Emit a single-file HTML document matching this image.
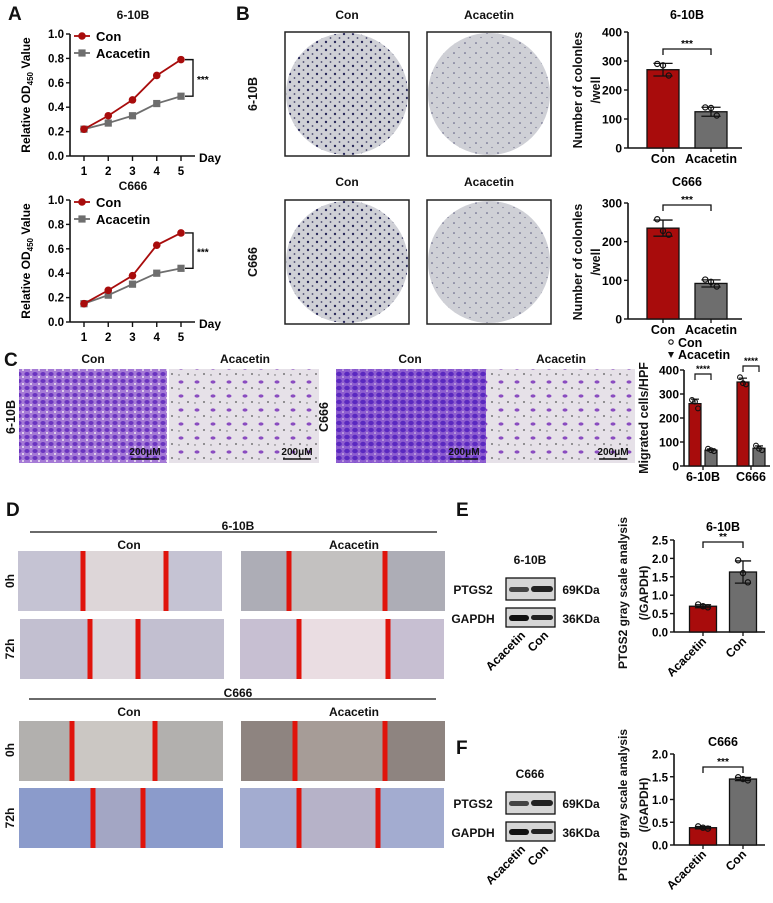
<!DOCTYPE html>
<html><head><meta charset="utf-8"><style>
body{margin:0;background:#fff}
svg{display:block;font-family:"Liberation Sans",Arial,sans-serif;font-weight:bold}
text{font-weight:bold}
</style></head><body>
<svg id="fig" width="773" height="903" viewBox="0 0 773 903" xmlns="http://www.w3.org/2000/svg">
<defs>
<pattern id="dots" width="9" height="8" patternUnits="userSpaceOnUse"><circle cx="2" cy="2" r="1.2" fill="#2a2a5a"/><circle cx="6.5" cy="6" r="0.9" fill="#44446a"/></pattern>
<pattern id="dotsL" width="11" height="10" patternUnits="userSpaceOnUse"><circle cx="3" cy="3" r="0.8" fill="#55557a"/><circle cx="8" cy="7.5" r="0.6" fill="#6a6a88"/></pattern>
<pattern id="cellsD" width="8" height="7" patternUnits="userSpaceOnUse"><rect width="8" height="7" fill="#a57ad6"/><ellipse cx="3" cy="3" rx="2.6" ry="2" fill="#6a34c0"/><circle cx="7" cy="6" r="1" fill="#f0e8f4"/></pattern>
<pattern id="cellsC" width="8" height="7" patternUnits="userSpaceOnUse"><rect width="8" height="7" fill="#8e5ed0"/><ellipse cx="3" cy="3" rx="2.8" ry="2.2" fill="#5a28c0"/><circle cx="7" cy="6" r="0.8" fill="#e8d8ee"/></pattern>
<pattern id="cellsL" width="16" height="14" patternUnits="userSpaceOnUse"><rect width="16" height="14" fill="#e6e1e8"/><ellipse cx="5" cy="4" rx="2.5" ry="1.6" fill="#8a4cc0"/><circle cx="12" cy="10" r="0.9" fill="#555"/><circle cx="3" cy="11" r="0.7" fill="#666"/></pattern>
</defs>
<g id="static"></g>
<g id="charts"></g>
</svg>
<script>
// ---------- DATA ----------
const days = [1, 2, 3, 4, 5];
const odTicks = [0.0, 0.2, 0.4, 0.6, 0.8, 1.0];
const od610Con = [0.22, 0.33, 0.46, 0.66, 0.79];
const od610Aca = [0.22, 0.27, 0.33, 0.43, 0.49];
const odC666Con = [0.15, 0.26, 0.38, 0.63, 0.73];
const odC666Aca = [0.15, 0.22, 0.31, 0.40, 0.44];

const groups = ["Con", "Acacetin"];
const col610Ticks = [0, 100, 200, 300, 400];
const col610Means = [270, 125];
const col610Pts = [[290, 285, 250], [140, 138, 112]];
const colC666Ticks = [0, 100, 200, 300];
const colC666Means = [235, 92];
const colC666Pts = [[258, 228, 218], [102, 96, 84]];

const migCells = ["6-10B", "C666"];
const migTicks = [0, 100, 200, 300, 400];
const migCon = [260, 350];
const migAca = [66, 74];
const migConPts = [[275, 268, 240], [370, 345, 340]];
const migAcaPts = [[72, 66, 62], [85, 72, 66]];

const wbGroups = ["Acacetin", "Con"];
const eTicks = [0.0, 0.5, 1.0, 1.5, 2.0, 2.5];
const eMeans = [0.70, 1.63];
const ePts = [[0.75, 0.70, 0.67], [1.95, 1.60, 1.35]];
const fTicks = [0.0, 0.5, 1.0, 1.5, 2.0];
const fMeans = [0.38, 1.45];
const fPts = [[0.41, 0.38, 0.36], [1.49, 1.45, 1.42]];

// ---------- HELPERS ----------
const NS = "http://www.w3.org/2000/svg";
const RED = "#a80c0c", GRAY = "#6e6e6e";
function mk(tag, attrs, parent, txt) {
  const e = document.createElementNS(NS, tag);
  for (const k in attrs) e.setAttribute(k, attrs[k]);
  if (txt !== undefined) e.textContent = txt;
  parent.appendChild(e);
  return e;
}
const S = document.getElementById("static");
const C = document.getElementById("charts");
function txt(x, y, s, size, name, extra) {
  const a = Object.assign({x: x, y: y, "font-size": size, "text-anchor": "middle", fill: "#111"}, extra || {});
  const e = mk("text", a, S, s);
  
  
  return e;
}
function vtxt(x, y, s, size, name) {
  const e = mk("text", {x: 0, y: 0, "font-size": size, "text-anchor": "middle", fill: "#111", transform: "translate(" + x + "," + y + ") rotate(-90)"}, S, s);
  
  
  return e;
}
function rect(x, y, w, h, fill, name, parent) {
  const e = mk("rect", {x: x, y: y, width: w, height: h, fill: fill}, parent || S);
  
  
  return e;
}
function mean(a){return a.reduce((s,v)=>s+v,0)/a.length;}
function sd(a){const m=mean(a);return Math.sqrt(a.reduce((s,v)=>s+(v-m)*(v-m),0)/(a.length-1));}

// ---------- PANEL LETTERS ----------
[["A",8,20],["B",236,20],["C",4,366],["D",6,516],["E",456,516],["F",456,754]].forEach(p=>{
  const e = txt(p[1], p[2], p[0], 19, "panel-label-" + p[0].toLowerCase(), {"text-anchor":"start"});
});

// ---------- LINE CHARTS (A) ----------
function lineChart(cfg, con, aca, name) {
  const g = mk("g", {}, C);
  
  
  const sx = d => cfg.x1 + (d - days[0]) * (cfg.x5 - cfg.x1) / (days[days.length-1] - days[0]);
  const sy = v => cfg.y0 - v * (cfg.y0 - cfg.y1) / odTicks[odTicks.length-1];
  mk("line", {x1: cfg.ax, y1: sy(1) , x2: cfg.ax, y2: cfg.y0, stroke: "#111", "stroke-width": 1.6}, g);
  mk("line", {x1: cfg.ax, y1: cfg.y0, x2: cfg.ax + 125, y2: cfg.y0, stroke: "#111", "stroke-width": 1.6}, g);
  odTicks.forEach(t => {
    mk("line", {x1: cfg.ax - 4, y1: sy(t), x2: cfg.ax, y2: sy(t), stroke: "#111", "stroke-width": 1.4}, g);
    const e = mk("text", {x: cfg.ax - 6, y: sy(t) + 4, "font-size": 11.5, "text-anchor": "end"}, g, t.toFixed(1));
    
    
  });
  days.forEach(d => {
    mk("line", {x1: sx(d), y1: cfg.y0, x2: sx(d), y2: cfg.y0 + 5, stroke: "#111", "stroke-width": 1.4}, g);
    const e = mk("text", {x: sx(d), y: cfg.y0 + 19, "font-size": 11.5, "text-anchor": "middle"}, g, String(d));
    
    
  });
  const dl = mk("text", {x: cfg.ax + 129, y: cfg.y0 + 6, "font-size": 12}, g, "Day");
  
  
  const yt = mk("text", {x: 0, y: 0, "font-size": 12, "text-anchor": "middle", transform: "translate(" + (cfg.ax - 40) + "," + ((sy(1)+cfg.y0)/2) + ") rotate(-90)"}, g);
  
  
  yt.innerHTML = 'Relative OD<tspan font-size="8" dy="3">450</tspan><tspan dy="-3"> Value</tspan>';
  const series = [[aca, GRAY, "sq", "acacetin"], [con, RED, "ci", "con"]];
  series.forEach(s => {
    const pts = s[0].map((v, i) => sx(days[i]) + "," + sy(v)).join(" ");
    const pl = mk("polyline", {points: pts, fill: "none", stroke: s[1], "stroke-width": 1.8}, g);
    
    
    s[0].forEach((v, i) => {
      let m;
      if (s[2] === "ci") m = mk("circle", {cx: sx(days[i]), cy: sy(v), r: 3.8, fill: s[1]}, g);
      else m = mk("rect", {x: sx(days[i]) - 3.6, y: sy(v) - 3.6, width: 7.2, height: 7.2, fill: s[1]}, g);
      
      
    });
  });
  const lx = cfg.ax + 4, ly = sy(1) + 2;
  mk("line", {x1: lx, y1: ly, x2: lx + 16, y2: ly, stroke: RED, "stroke-width": 1.8}, g);
  mk("circle", {cx: lx + 8, cy: ly, r: 3.8, fill: RED}, g);
  const l1 = mk("text", {x: lx + 22, y: ly + 5, "font-size": 13}, g, "Con");
  
  
  mk("line", {x1: lx, y1: ly + 17, x2: lx + 16, y2: ly + 17, stroke: GRAY, "stroke-width": 1.8}, g);
  mk("rect", {x: lx + 4.4, y: ly + 13.4, width: 7.2, height: 7.2, fill: GRAY}, g);
  const l2 = mk("text", {x: lx + 22, y: ly + 22, "font-size": 13}, g, "Acacetin");
  
  
  const bx = sx(days[4]) + 12;
  const ya = sy(con[4]), yb = sy(aca[4]);
  mk("polyline", {points: (sx(days[4])+4) + "," + ya + " " + bx + "," + ya + " " + bx + "," + yb + " " + (sx(days[4])+4) + "," + yb, fill: "none", stroke: "#111", "stroke-width": 1.4}, g);
  const st = mk("text", {x: bx + 4, y: (ya + yb) / 2 + 5, "font-size": 10}, g, "***");
  
  
}
txt(133, 19, "6-10B", 12, "chart-title-a-610b");
txt(133, 190, "C666", 12, "chart-title-a-c666");
lineChart({ax: 70, y0: 156, y1: 34, x1: 84, x5: 181}, od610Con, od610Aca, "line-chart-610b");
lineChart({ax: 70, y0: 322, y1: 200, x1: 84, x5: 181}, odC666Con, odC666Aca, "line-chart-c666");

// ---------- BAR CHARTS ----------
function barChart(cfg, means, pts, ticks, fmt, cats, name) {
  const g = mk("g", {}, C);
  
  
  const tmax = ticks[ticks.length - 1];
  const sy = v => cfg.y0 - v * (cfg.y0 - cfg.yTop) / tmax;
  mk("line", {x1: cfg.ax, y1: sy(tmax), x2: cfg.ax, y2: cfg.y0, stroke: "#111", "stroke-width": 1.6}, g);
  mk("line", {x1: cfg.ax, y1: cfg.y0, x2: cfg.xEnd, y2: cfg.y0, stroke: "#111", "stroke-width": 1.6}, g);
  ticks.forEach(t => {
    mk("line", {x1: cfg.ax - 4, y1: sy(t), x2: cfg.ax, y2: sy(t), stroke: "#111", "stroke-width": 1.4}, g);
    const e = mk("text", {x: cfg.ax - 6, y: sy(t) + 4.5, "font-size": cfg.fs || 12, "text-anchor": "end"}, g, fmt(t));
    
    
  });
  means.forEach((m, i) => {
    const cx = cfg.cx[i], w = cfg.bw;
    const b = mk("rect", {x: cx - w/2, y: sy(m), width: w, height: cfg.y0 - sy(m), fill: cfg.colors[i], stroke: "#111", "stroke-width": 1.3}, g);
    
    
    const s = sd(pts[i]);
    mk("line", {x1: cx, y1: sy(m + s), x2: cx, y2: sy(m), stroke: "#111", "stroke-width": 1.3}, g);
    mk("line", {x1: cx - w*0.3, y1: sy(m + s), x2: cx + w*0.3, y2: sy(m + s), stroke: "#111", "stroke-width": 1.3}, g);
    mk("line", {x1: cx - w*0.3, y1: sy(m - s), x2: cx + w*0.3, y2: sy(m - s), stroke: "#111", "stroke-width": 1.3}, g);
    mk("line", {x1: cx, y1: sy(m - s), x2: cx, y2: sy(m), stroke: "#111", "stroke-width": 1.3}, g);
    pts[i].forEach((p, j) => {
      const d = mk("circle", {cx: cx + (j - 1) * w * 0.18, cy: sy(p), r: 2.6, fill: "none", stroke: "#111", "stroke-width": 1.2}, g);
      
      
    });
    mk("line", {x1: cx, y1: cfg.y0, x2: cx, y2: cfg.y0 + 4, stroke: "#111", "stroke-width": 1.3}, g);
    let lab;
    if (cfg.rot) {
      lab = mk("text", {x: 0, y: 0, "font-size": 12, "text-anchor": "end", transform: "translate(" + (cx + 4) + "," + (cfg.y0 + 10) + ") rotate(-45)"}, g, cats[i]);
    } else {
      lab = mk("text", {x: cx, y: cfg.y0 + 15, "font-size": 12.5, "text-anchor": "middle"}, g, cats[i]);
    }
    
    
  });
  const by = cfg.brY;
  mk("polyline", {points: cfg.cx[0] + "," + (by + 6) + " " + cfg.cx[0] + "," + by + " " + cfg.cx[1] + "," + by + " " + cfg.cx[1] + "," + (by + 6), fill: "none", stroke: "#111", "stroke-width": 1.3}, g);
  const st = mk("text", {x: (cfg.cx[0] + cfg.cx[1]) / 2, y: by - 2, "font-size": 10, "text-anchor": "middle"}, g, cfg.star);
  
  
  if (cfg.title) {
    const t = mk("text", {x: (cfg.cx[0] + cfg.cx[1]) / 2, y: cfg.titleY, "font-size": 12.5, "text-anchor": "middle"}, g, cfg.title);
    
    
  }
}
const int = t => String(t), one = t => t.toFixed(1);
barChart({ax: 628, y0: 148, yTop: 32, xEnd: 742, cx: [663, 711], bw: 32, colors: [RED, GRAY], brY: 49, star: "***", title: "6-10B", titleY: 19}, col610Means, col610Pts, col610Ticks, int, groups, "bar-chart-colonies-610b");
barChart({ax: 628, y0: 319, yTop: 203, xEnd: 742, cx: [663, 711], bw: 32, colors: [RED, GRAY], brY: 205, star: "***", title: "C666", titleY: 186}, colC666Means, colC666Pts, colC666Ticks, int, groups, "bar-chart-colonies-c666");
vtxt(582, 90, "Number of colonles", 12.5, "y-axis-title");
vtxt(600, 90, "/well", 12.5, "y-axis-title-2");
vtxt(582, 262, "Number of colonles", 12.5, "y-axis-title");
vtxt(600, 262, "/well", 12.5, "y-axis-title-2");

barChart({ax: 674, y0: 632, yTop: 540, xEnd: 765, cx: [703, 743], bw: 27, colors: [RED, GRAY], brY: 542, star: "**", title: "6-10B", titleY: 531, rot: true, fs: 11.5}, eMeans, ePts, eTicks, one, wbGroups, "bar-chart-ptgs2-610b");
barChart({ax: 674, y0: 845, yTop: 754, xEnd: 765, cx: [703, 743], bw: 27, colors: [RED, GRAY], brY: 767, star: "***", title: "C666", titleY: 746, rot: true, fs: 11.5}, fMeans, fPts, fTicks, one, wbGroups, "bar-chart-ptgs2-c666");
vtxt(627, 593, "PTGS2 gray scale analysis", 12, "y-axis-title");
vtxt(648, 593, "(/GAPDH)", 12, "y-axis-title-2");
vtxt(627, 805, "PTGS2 gray scale analysis", 12, "y-axis-title");
vtxt(648, 805, "(/GAPDH)", 12, "y-axis-title-2");

// ---------- MIGRATION GROUPED BAR (C) ----------
(function(){
  const g = mk("g", {}, C);
  
  
  const ax = 684, y0 = 466, yTop = 370, xEnd = 770;
  const tmax = migTicks[migTicks.length-1];
  const sy = v => y0 - v * (y0 - yTop) / tmax;
  const grpX = [703, 751], bw = 12, off = 8;
  const brY = [374, 366];
  mk("line", {x1: ax, y1: yTop, x2: ax, y2: y0, stroke: "#111", "stroke-width": 1.6}, g);
  mk("line", {x1: ax, y1: y0, x2: xEnd, y2: y0, stroke: "#111", "stroke-width": 1.6}, g);
  migTicks.forEach(t => {
    mk("line", {x1: ax - 4, y1: sy(t), x2: ax, y2: sy(t), stroke: "#111", "stroke-width": 1.4}, g);
    const e = mk("text", {x: ax - 5, y: sy(t) + 4.5, "font-size": 12, "text-anchor": "end"}, g, String(t));
    
    
  });
  migCells.forEach((c, i) => {
    const sets = [[migCon[i], migConPts[i], RED, -off, "con"], [migAca[i], migAcaPts[i], GRAY, off, "acacetin"]];
    sets.forEach(s => {
      const cx = grpX[i] + s[3];
      const b = mk("rect", {x: cx - bw/2, y: sy(s[0]), width: bw, height: y0 - sy(s[0]), fill: s[2], stroke: "#111", "stroke-width": 1.2}, g);
      
      
      const d = sd(s[1]);
      mk("line", {x1: cx, y1: sy(s[0] + d), x2: cx, y2: sy(s[0]), stroke: "#111", "stroke-width": 1.2}, g);
      mk("line", {x1: cx - 4, y1: sy(s[0] + d), x2: cx + 4, y2: sy(s[0] + d), stroke: "#111", "stroke-width": 1.2}, g);
      s[1].forEach((p, j) => {
        const pt = mk("circle", {cx: cx + (j - 1) * 3, cy: sy(p), r: 2.4, fill: "none", stroke: "#111", "stroke-width": 1.1}, g);
        
        
      });
    });
    mk("line", {x1: grpX[i], y1: y0, x2: grpX[i], y2: y0 + 4, stroke: "#111", "stroke-width": 1.3}, g);
    const l = mk("text", {x: grpX[i], y: y0 + 15, "font-size": 12.5, "text-anchor": "middle"}, g, c);
    
    
    const by = brY[i];
    mk("polyline", {points: (grpX[i]-off) + "," + (by+6) + " " + (grpX[i]-off) + "," + by + " " + (grpX[i]+off) + "," + by + " " + (grpX[i]+off) + "," + (by+6), fill: "none", stroke: "#111", "stroke-width": 1.2}, g);
    const st = mk("text", {x: grpX[i], y: by - 2, "font-size": 9, "text-anchor": "middle"}, g, "****");
    
    
  });
  mk("circle", {cx: 671, cy: 342, r: 2.2, fill: "none", stroke: "#111", "stroke-width": 1.1}, g);
  const l1 = mk("text", {x: 678, y: 347, "font-size": 12.5}, g, "Con");
  
  
  mk("path", {d: "M668 352 L674 352 L671 358 Z", fill: "#111"}, g);
  const l2 = mk("text", {x: 678, y: 359, "font-size": 12.5}, g, "Acacetin");
  
  
  vtxt(648, 418, "Migrated cells/HPF", 12.5, "y-axis-title");
})();

// ---------- PANEL B: DISHES ----------
txt(347, 19, "Con", 12, "col-label-con");
txt(489, 19, "Acacetin", 12, "col-label-acacetin");
txt(347, 186, "Con", 12, "col-label-con");
txt(489, 186, "Acacetin", 12, "col-label-acacetin");
vtxt(257, 94, "6-10B", 12.5, "row-label-610b");
vtxt(257, 262, "C666", 12.5, "row-label-c666");
[[285,32,"url(#dots)","dish-con-610b"],[427,32,"url(#dotsL)","dish-acacetin-610b"],[285,200,"url(#dots)","dish-con-c666"],[427,200,"url(#dotsL)","dish-acacetin-c666"]].forEach(d=>{
  const r = rect(d[0], d[1], 124, 124, "#fff", d[3]);
  r.setAttribute("stroke", "#222"); r.setAttribute("stroke-width", "1.5");
  mk("circle", {cx: d[0]+62, cy: d[1]+62, r: 61, fill: "#cfd0d6"}, S);
  mk("circle", {cx: d[0]+62, cy: d[1]+62, r: 61, fill: d[2]}, S);
});

// ---------- PANEL C: TRANSWELL IMAGES ----------
txt(93, 363, "Con", 12, "col-label-con");
txt(245, 363, "Acacetin", 12, "col-label-acacetin");
txt(410, 363, "Con", 12, "col-label-con");
txt(561, 363, "Acacetin", 12, "col-label-acacetin");
vtxt(15, 417, "6-10B", 12.5, "row-label-610b");
vtxt(328, 417, "C666", 12.5, "row-label-c666");
[[19,148,"url(#cellsD)","transwell-con-610b"],[169,150,"url(#cellsL)","transwell-acacetin-610b"],[336,150,"url(#cellsC)","transwell-con-c666"],[486,149,"url(#cellsL)","transwell-acacetin-c666"]].forEach(d=>{
  rect(d[0], 369, d[1], 94, d[2], d[3]);
  txt(d[0]+d[1]-22, 455, "200μM", 10, "scale-bar-label", {fill:"#111"});
  mk("line", {x1: d[0]+d[1]-36, y1: 459, x2: d[0]+d[1]-8, y2: 459, stroke: "#111", "stroke-width": 1.5}, S);
});

// ---------- PANEL D: WOUND HEALING ----------
txt(238, 530, "6-10B", 12, "group-label-610b");
mk("line", {x1: 30, y1: 532, x2: 437, y2: 532, stroke: "#111", "stroke-width": 1.3}, S);
txt(238, 697, "C666", 12, "group-label-c666");
mk("line", {x1: 29, y1: 699, x2: 436, y2: 699, stroke: "#111", "stroke-width": 1.3}, S);
[545, 712].forEach(y => { txt(129, y+4, "Con", 12, "col-label-con"); txt(354, y+4, "Acacetin", 12, "col-label-acacetin"); });
[[581,"0h"],[649,"72h"],[750,"0h"],[818,"72h"]].forEach(r=>vtxt(14, r[0], r[1], 12, "row-label-" + r[1]));
const wounds = [
  [18,551,"#c5c3d3","#ddd6d8",83,166,"wound-con-610b-0h"],
  [241,551,"#adadb6","#c3c1c0",289,385,"wound-acacetin-610b-0h"],
  [20,619,"#c2bfd0","#dcd6dc",90,138,"wound-con-610b-72h"],
  [240,619,"#c7bfd2","#eadde2",299,388,"wound-acacetin-610b-72h"],
  [19,721,"#b2b0ae","#cbc7c3",72,155,"wound-con-c666-0h"],
  [241,721,"#8e8480","#a69c97",295,385,"wound-acacetin-c666-0h"],
  [19,788,"#8b9bcb","#a3a6c4",93,143,"wound-con-c666-72h"],
  [240,788,"#a3acd0","#b6b2c8",299,378,"wound-acacetin-c666-72h"]
];
wounds.forEach(w=>{
  rect(w[0], w[1], 204, 60, w[2], w[6]);
  rect(w[4], w[1], w[5]-w[4], 60, w[3], "wound-gap");
  rect(w[4]-2.5, w[1], 5, 60, "#e0140c", "wound-edge-left");
  rect(w[5]-2.5, w[1], 5, 60, "#e0140c", "wound-edge-right");
});

// ---------- PANELS E/F: WESTERN BLOTS ----------
function blot(y0, title, name) {
  txt(530, y0 - 14, title, 12, "blot-title");
  txt(473, y0 + 16, "PTGS2", 12, "blot-label-ptgs2");
  txt(473, y0 + 45, "GAPDH", 12, "blot-label-gapdh");
  txt(581, y0 + 16, "69KDa", 12, "blot-size-69kda");
  txt(581, y0 + 45, "36KDa", 12, "blot-size-36kda");
  const b1 = rect(506, y0, 49, 22, "#d6d6d6", name + "-ptgs2-band");
  b1.setAttribute("stroke", "#111"); b1.setAttribute("stroke-width", "1.3");
  const b2 = rect(506, y0 + 30, 49, 19, "#d6d6d6", name + "-gapdh-band");
  b2.setAttribute("stroke", "#111"); b2.setAttribute("stroke-width", "1.3");
  mk("rect", {x: 509, y: y0 + 9, width: 20, height: 5, rx: 2.5, fill: "#444"}, S);
  mk("rect", {x: 531, y: y0 + 8, width: 22, height: 6, rx: 3, fill: "#222"}, S);
  mk("rect", {x: 509, y: y0 + 37, width: 20, height: 6, rx: 3, fill: "#111"}, S);
  mk("rect", {x: 531, y: y0 + 37, width: 22, height: 5, rx: 2.5, fill: "#222"}, S);
  [["Acacetin", 520], ["Con", 543]].forEach(l => {
    const e = mk("text", {x: 0, y: 0, "font-size": 12, "text-anchor": "end", transform: "translate(" + (l[1] + 6) + "," + (y0 + 58) + ") rotate(-45)"}, S, l[0]);
    
    
  });
}
blot(578, "6-10B", "blot-610b");
blot(792, "C666", "blot-c666");
</script>
</body></html>
